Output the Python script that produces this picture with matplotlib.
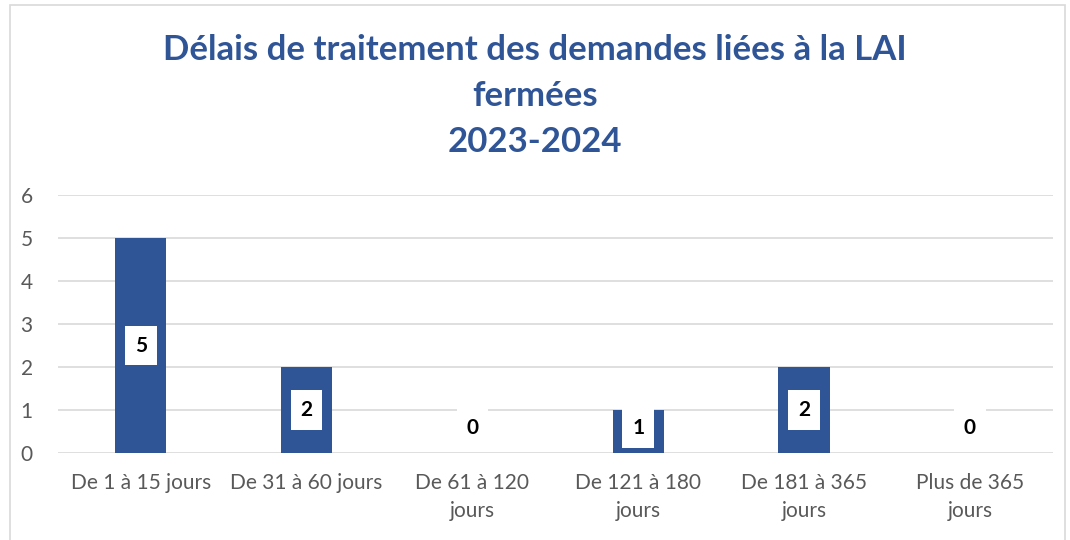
import matplotlib
matplotlib.use('Agg')
import matplotlib.pyplot as plt
from matplotlib.patches import Rectangle

categories = ["De 1 à 15 jours", "De 31 à 60 jours", "De 61 à 120\njours",
              "De 121 à 180\njours", "De 181 à 365\njours", "Plus de 365\njours"]
values = [5, 2, 0, 1, 2, 0]
title = "Délais de traitement des demandes liées à la LAI\nfermées\n2023-2024"

plt.rcParams['font.family'] = ['Lato', 'DejaVu Sans']
blue = "#2F5597"

fig = plt.figure(figsize=(10.7, 5.4), dpi=100)
fig.patches.append(Rectangle((0.009, -0.01), 0.986, 1.0, transform=fig.transFigure,
                             fill=False, edgecolor="#D9D9D9", linewidth=1.2))
ax = fig.add_axes([0.054, 0.161, 0.930, 0.478])

x = range(len(categories))
ax.bar(x, values, width=0.31, color=blue, zorder=3)
for i, v in enumerate(values):
    ax.text(i, max(v / 2, 0.58), str(v), ha="center", va="center", fontsize=15,
            fontweight="bold", color="black", zorder=4,
            bbox=dict(facecolor="white", edgecolor="none", pad=7))

ax.set_xlim(-0.5, len(categories) - 0.5)
ax.set_ylim(0, 6)
ax.set_yticks(range(7))
ax.set_xticks(list(x))
ax.set_xticklabels(categories, linespacing=1.5)
ax.grid(axis="y", color="#D9D9D9", linewidth=1.2, zorder=0)
for s in ax.spines.values():
    s.set_visible(False)
ax.tick_params(length=0, labelsize=15, labelcolor="#595959")
ax.tick_params(axis="x", pad=14)
ax.tick_params(axis="y", pad=18)

fig.text(0.5, 0.822, title, ha="center", va="center", fontsize=25,
         fontweight="bold", color=blue, linespacing=1.55)

fig.savefig("out.png", dpi=100)
